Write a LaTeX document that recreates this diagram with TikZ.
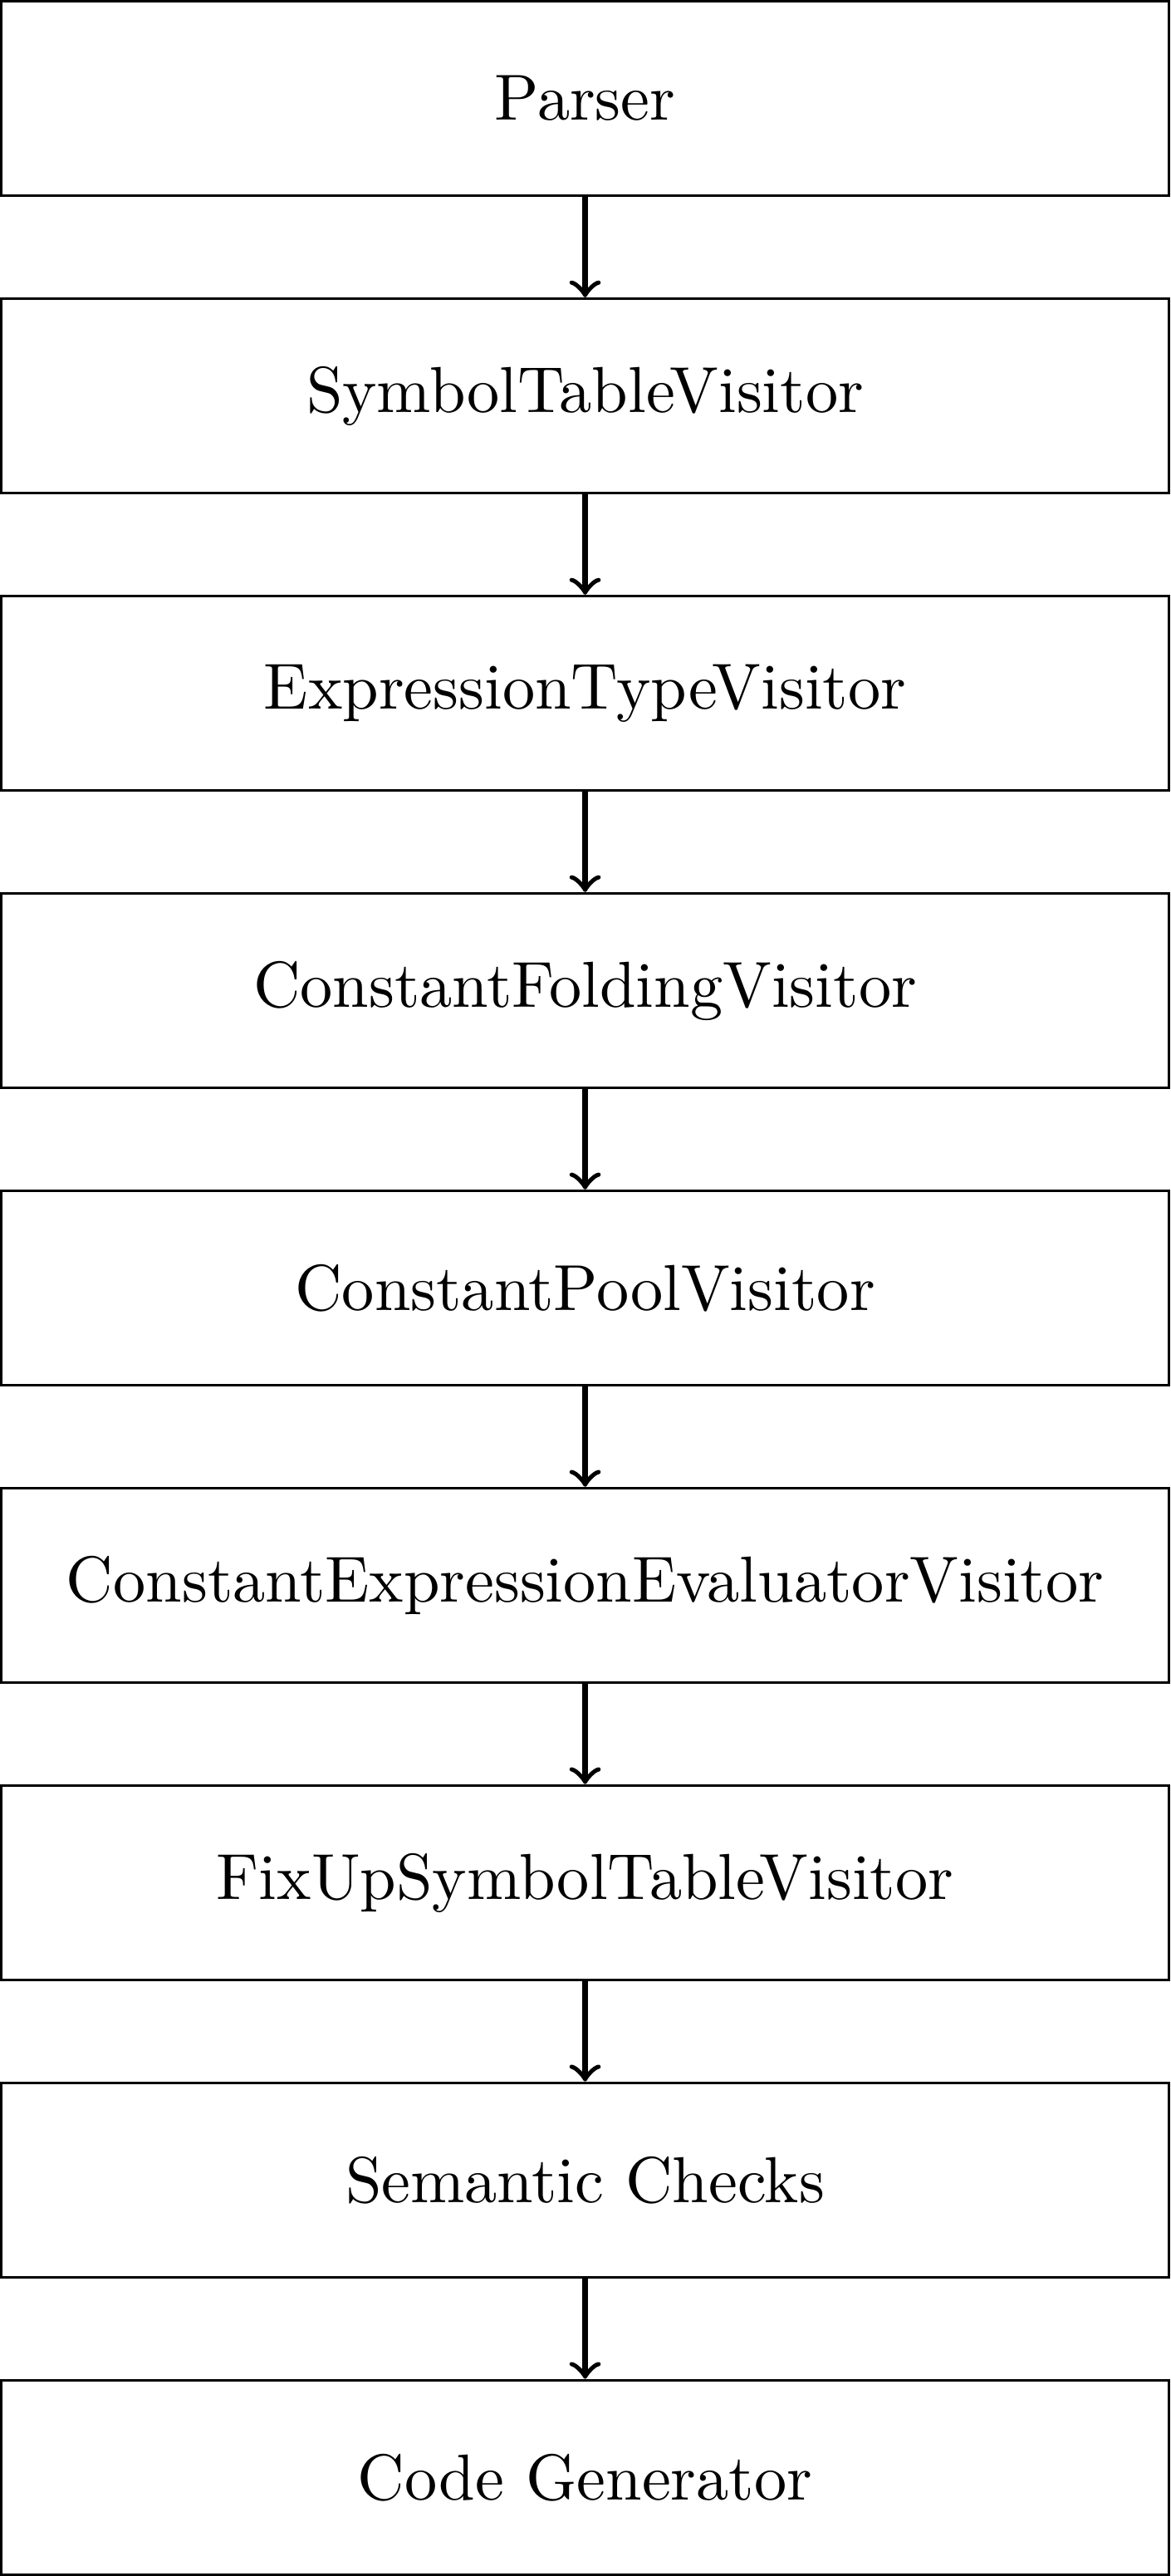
\documentclass[tikz,border=0pt]{standalone}
\usetikzlibrary{positioning}
\begin{document}
\begin{tikzpicture}[node distance=15.4pt,
  stage/.style={draw,minimum width=179.5pt,minimum height=29.9pt,inner sep=0pt}]
\node[stage] (parser) {Parser};
\node[stage,below=of parser] (symtab) {SymbolTableVisitor};
\node[stage,below=of symtab] (exprtype) {ExpressionTypeVisitor};
\node[stage,below=of exprtype] (constfold) {ConstantFoldingVisitor};
\node[stage,below=of constfold] (constpool) {ConstantPoolVisitor};
\node[stage,below=of constpool] (consteval) {ConstantExpressionEvaluatorVisitor};
\node[stage,below=of consteval] (fixup) {FixUpSymbolTableVisitor};
\node[stage,below=of fixup] (semantic) {Semantic Checks};
\node[stage,below=of semantic] (codegen) {Code Generator};
\foreach \a/\b in {parser/symtab,symtab/exprtype,exprtype/constfold,constfold/constpool,constpool/consteval,consteval/fixup,fixup/semantic,semantic/codegen}
  \draw[->,thick] (\a) -- (\b);
\end{tikzpicture}
\end{document}
